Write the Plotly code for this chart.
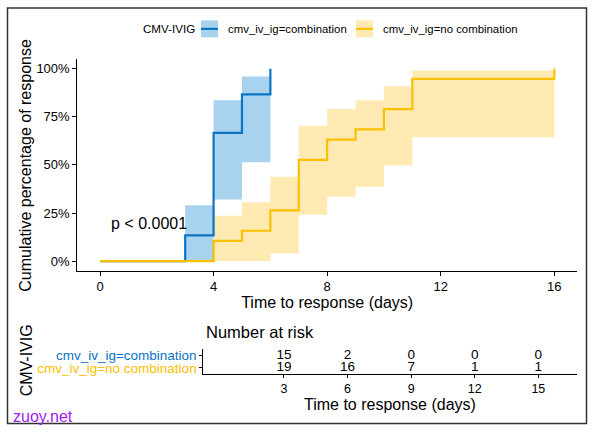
import plotly.graph_objects as go

W, H = 595, 432

# ---------------- data ----------------
comb_time = [0, 3, 4, 5, 6]
comb_pct = [0, 13.33, 66.67, 86.67, 100]
comb_ci_time = [3, 4, 5, 6]
comb_ci_low = [0, 32.0, 51.4, 51.4]
comb_ci_high = [29.0, 83.6, 95.9, 95.9]

nocomb_time = [0, 4, 5, 6, 7, 8, 9, 10, 11, 16]
nocomb_pct = [0, 10.53, 15.79, 26.32, 52.63, 63.16, 68.42, 78.95, 94.74, 100]
nocomb_ci_time = [4, 5, 6, 7, 8, 9, 10, 11, 16]
nocomb_ci_low = [0, 0, 4.1, 24.1, 33.5, 38.6, 49.7, 64.3, 64.3]
nocomb_ci_high = [23.6, 30.6, 43.8, 70.3, 79.1, 83.6, 90.8, 99.0, 99.0]

risk_times = [3, 6, 9, 12, 15]
risk_comb = [15, 2, 0, 0, 0]
risk_nocomb = [19, 16, 7, 1, 1]

group_labels = ["cmv_iv_ig=combination", "cmv_iv_ig=no combination"]
main_xticks = [0, 4, 8, 12, 16]
main_yticks = [0, 25, 50, 75, 100]
main_yticklabels = ["0%", "25%", "50%", "75%", "100%"]
pval_text = "p < 0.0001"

# ---------------- style ----------------
BLUE = "#0A74C4"
BLUE_FILL = "#A8D2EE"
ORANGE = "#FBC000"
ORANGE_FILL = "#FEEAB2"
FONT = "Liberation Sans, Arial, sans-serif"


def px(x):
    return x / W


def py(y):
    return 1 - y / H


fig = go.Figure()


def band(t, lo, hi, color):
    fig.add_trace(go.Scatter(x=t, y=lo, mode="lines", line=dict(width=0, shape="hv"),
                             hoverinfo="skip", showlegend=False, xaxis="x", yaxis="y"))
    fig.add_trace(go.Scatter(x=t, y=hi, mode="lines", line=dict(width=0, shape="hv"),
                             fill="tonexty", fillcolor=color, hoverinfo="skip",
                             showlegend=False, xaxis="x", yaxis="y"))


band(comb_ci_time, comb_ci_low, comb_ci_high, BLUE_FILL)
band(nocomb_ci_time, nocomb_ci_low, nocomb_ci_high, ORANGE_FILL)

fig.add_trace(go.Scatter(x=comb_time, y=comb_pct, mode="lines", name=group_labels[0],
                         line=dict(color=BLUE, width=2.2, shape="hv"),
                         showlegend=False, xaxis="x", yaxis="y"))
fig.add_trace(go.Scatter(x=nocomb_time, y=nocomb_pct, mode="lines", name=group_labels[1],
                         line=dict(color=ORANGE, width=2.2, shape="hv"),
                         showlegend=False, xaxis="x", yaxis="y"))

# risk table
fig.add_trace(go.Scatter(x=risk_times, y=[2] * len(risk_times), mode="text",
                         text=[str(v) for v in risk_comb],
                         textfont=dict(size=13.5, color="black", family=FONT),
                         showlegend=False, hoverinfo="skip", xaxis="x2", yaxis="y2"))
fig.add_trace(go.Scatter(x=risk_times, y=[1] * len(risk_times), mode="text",
                         text=[str(v) for v in risk_nocomb],
                         textfont=dict(size=13.5, color="black", family=FONT),
                         showlegend=False, hoverinfo="skip", xaxis="x2", yaxis="y2"))

axis_common = dict(showgrid=False, zeroline=False, showline=True, linecolor="black",
                   linewidth=1.1, ticks="outside", tickcolor="black", tickwidth=1.1,
                   tickfont=dict(size=13, color="black", family=FONT))

fig.update_layout(
    width=W, height=H,
    margin=dict(l=0, r=0, t=0, b=0),
    paper_bgcolor="white", plot_bgcolor="white",
    font=dict(family=FONT, color="black"),
    showlegend=False,
    xaxis=dict(axis_common, domain=[px(77.3), px(577)], range=[-0.8, 16.8],
               tickvals=main_xticks, ticklen=4, anchor="y",
               title=dict(text="Time to response (days)", font=dict(size=16), standoff=3)),
    yaxis=dict(axis_common, domain=[py(271), py(58.3)], range=[-5, 105],
               tickvals=main_yticks, ticktext=main_yticklabels, ticklen=4, anchor="x"),
    xaxis2=dict(axis_common, domain=[px(203.4), px(576.5)], range=[-0.8, 16.8],
                tickvals=risk_times, ticklen=3, anchor="y2",
                tickfont=dict(size=12.5, color="black", family=FONT),
                title=dict(text="Time to response (days)", font=dict(size=16), standoff=3)),
    yaxis2=dict(axis_common, domain=[py(375), py(349.5)], range=[0.5, 2.5],
                tickvals=[2, 1], ticklen=3, anchor="x2",
                ticktext=[f'<span style="color:{BLUE}">{group_labels[0]}</span>',
                          f'<span style="color:{ORANGE}">{group_labels[1]}</span>'],
                tickfont=dict(size=13.5, family=FONT)),
)

annotations = [
    # y-axis titles
    dict(x=px(25.5), y=py(165), xref="paper", yref="paper",
         text="Cumulative percentage of response", textangle=-90, showarrow=False,
         xanchor="center", yanchor="middle", font=dict(size=16, color="black")),
    dict(x=px(26), y=py(361), xref="paper", yref="paper",
         text="CMV-IVIG", textangle=-90, showarrow=False,
         xanchor="center", yanchor="middle", font=dict(size=16, color="black")),
    dict(x=0.32, y=19.7, xref="x", yref="y", text=pval_text, showarrow=False,
         xanchor="left", yanchor="middle", font=dict(size=16, color="black")),
    dict(x=px(204), y=py(333), xref="paper", yref="paper", text="Number at risk",
         showarrow=False, xanchor="left", yanchor="middle", font=dict(size=16.5, color="black")),
    # legend
    dict(x=px(141), y=py(28), xref="paper", yref="paper", text="CMV-IVIG", showarrow=False,
         xanchor="left", yanchor="middle", font=dict(size=11.6, color="black")),
    dict(x=px(226), y=py(28), xref="paper", yref="paper", text=group_labels[0], showarrow=False,
         xanchor="left", yanchor="middle", font=dict(size=11.4, color="black")),
    dict(x=px(381), y=py(28), xref="paper", yref="paper", text=group_labels[1], showarrow=False,
         xanchor="left", yanchor="middle", font=dict(size=11.4, color="black")),
    dict(x=px(11), y=py(417), xref="paper", yref="paper", text="zuoy.net", showarrow=False,
         xanchor="left", yanchor="middle", font=dict(size=16, color="#A020F0")),
]
fig.update_layout(annotations=annotations)

shapes = [
    # legend keys
    dict(type="rect", xref="paper", yref="paper", x0=px(201), x1=px(218), y0=py(36.5), y1=py(19.5),
         fillcolor=BLUE_FILL, line=dict(width=0)),
    dict(type="line", xref="paper", yref="paper", x0=px(201), x1=px(218), y0=py(28), y1=py(28),
         line=dict(color=BLUE, width=2.2)),
    dict(type="rect", xref="paper", yref="paper", x0=px(356), x1=px(373), y0=py(36.5), y1=py(19.5),
         fillcolor=ORANGE_FILL, line=dict(width=0)),
    dict(type="line", xref="paper", yref="paper", x0=px(356), x1=px(373), y0=py(28), y1=py(28),
         line=dict(color=ORANGE, width=2.2)),
    # outer frame
    dict(type="rect", xref="paper", yref="paper", x0=px(7.5), x1=px(586.5), y0=py(424.5), y1=py(7),
         line=dict(color="#333333", width=1.5), fillcolor="rgba(0,0,0,0)"),
]
fig.update_layout(shapes=shapes)

fig.write_html("out.html", config={"displayModeBar": False},
               post_script="document.body.style.margin='0';document.body.style.overflow='hidden';")
